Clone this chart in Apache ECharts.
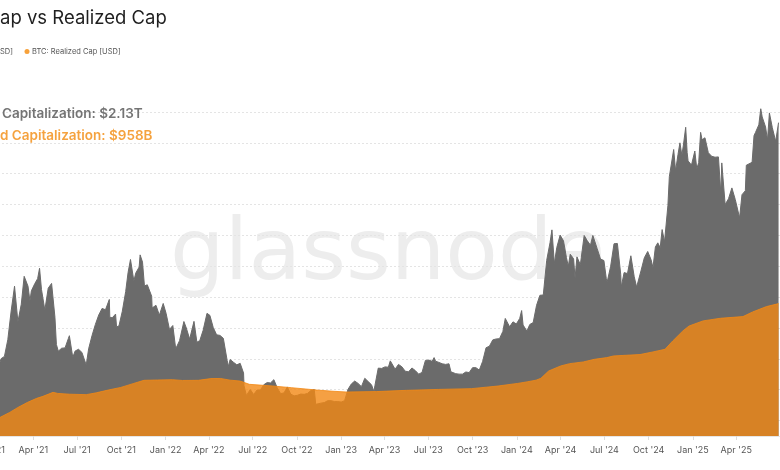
<!DOCTYPE html>
<html><head><meta charset="utf-8">
<script src="https://cdn.jsdelivr.net/npm/echarts@6/dist/echarts.min.js"></script>
<style>html,body{margin:0;padding:0;background:#fff;overflow:hidden}#c{width:780px;height:470px}</style>
</head><body><div id="c"></div>
<script>
// BTC market cap (USD billions)
const marketCap = [
['2021-01-03',614],['2021-01-08',765],['2021-01-10',712],['2021-01-17',666],['2021-01-21',573],['2021-01-24',601],['2021-01-31',616],
['2021-02-07',724],['2021-02-14',910],['2021-02-21',1071],['2021-02-28',840],['2021-03-07',954],['2021-03-13',1135],['2021-03-21',1071],
['2021-03-25',975],['2021-03-28',1041],['2021-04-04',1087],['2021-04-10',1120],['2021-04-14',1187],['2021-04-18',1050],['2021-04-25',916],
['2021-05-02',1058],['2021-05-09',1089],['2021-05-16',869],['2021-05-19',693],['2021-05-23',650],['2021-05-30',669],['2021-06-06',671],
['2021-06-13',733],['2021-06-15',750],['2021-06-22',610],['2021-06-27',651],['2021-07-04',662],['2021-07-11',642],['2021-07-20',560],
['2021-07-25',665],['2021-08-01',750],['2021-08-08',823],['2021-08-15',884],['2021-08-22',927],['2021-08-29',918],['2021-09-06',985],
['2021-09-07',870],['2021-09-12',866],['2021-09-19',890],['2021-09-21',808],['2021-09-26',813],['2021-10-03',908],['2021-10-10',1036],
['2021-10-15',1160],['2021-10-20',1244],['2021-10-27',1105],['2021-10-31',1156],['2021-11-07',1195],['2021-11-09',1274],['2021-11-14',1227],
['2021-11-18',1073],['2021-11-24',1080],['2021-11-28',1082],['2021-12-03',1006],['2021-12-04',930],['2021-12-12',947],['2021-12-19',883],
['2021-12-27',959],['2022-01-02',895],['2022-01-09',791],['2022-01-16',816],['2022-01-22',665],['2022-01-30',718],['2022-02-08',842],
['2022-02-13',800],['2022-02-20',728],['2022-02-24',726],['2022-03-01',843],['2022-03-07',708],['2022-03-13',718],['2022-03-20',785],
['2022-03-28',895],['2022-04-03',882],['2022-04-10',803],['2022-04-17',756],['2022-04-24',752],['2022-05-01',733],['2022-05-09',588],
['2022-05-12',551],['2022-05-15',596],['2022-05-22',578],['2022-05-29',561],['2022-06-05',571],['2022-06-12',508],['2022-06-13',425],
['2022-06-18',363],['2022-06-26',401],['2022-07-03',369],['2022-07-10',398],['2022-07-17',398],['2022-07-24',432],['2022-07-31',446],
['2022-08-07',444],['2022-08-14',465],['2022-08-21',412],['2022-08-28',375],['2022-09-04',379],['2022-09-11',418],['2022-09-18',372],
['2022-09-25',360],['2022-10-02',364],['2022-10-09',372],['2022-10-16',370],['2022-10-23',376],['2022-10-30',395],['2022-11-06',401],
['2022-11-09',305],['2022-11-13',313],['2022-11-20',313],['2022-11-27',317],['2022-12-04',329],['2022-12-11',329],['2022-12-18',323],
['2022-12-25',323],['2023-01-01',320],['2023-01-08',329],['2023-01-15',402],['2023-01-22',437],['2023-01-29',456],['2023-02-05',441],
['2023-02-12',420],['2023-02-19',474],['2023-02-26',453],['2023-03-05',432],['2023-03-10',389],['2023-03-12',426],['2023-03-19',540],
['2023-03-26',538],['2023-04-02',548],['2023-04-09',546],['2023-04-13',587],['2023-04-16',585],['2023-04-23',533],['2023-04-30',564],
['2023-05-07',549],['2023-05-14',520],['2023-05-21',516],['2023-05-28',541],['2023-06-04',524],['2023-06-11',501],['2023-06-18',512],
['2023-06-25',590],['2023-07-02',592],['2023-07-09',584],['2023-07-13',608],['2023-07-16',585],['2023-07-23',577],['2023-07-30',568],
['2023-08-06',564],['2023-08-13',568],['2023-08-17',516],['2023-08-20',508],['2023-08-27',504],['2023-09-03',501],['2023-09-10',501],
['2023-09-17',515],['2023-09-24',511],['2023-10-01',543],['2023-10-08',543],['2023-10-15',527],['2023-10-22',584],['2023-10-29',672],
['2023-11-05',682],['2023-11-12',723],['2023-11-19',729],['2023-11-26',731],['2023-12-03',778],['2023-12-08',862],['2023-12-10',855],
['2023-12-17',808],['2023-12-24',840],['2023-12-31',826],['2024-01-07',862],['2024-01-11',913],['2024-01-14',819],['2024-01-22',780],
['2024-01-28',823],['2024-02-04',835],['2024-02-11',947],['2024-02-18',1012],['2024-02-25',1014],['2024-03-03',1238],['2024-03-10',1353],
['2024-03-14',1436],['2024-03-19',1218],['2024-03-24',1321],['2024-03-31',1402],['2024-04-07',1365],['2024-04-13',1258],['2024-04-17',1200],
['2024-04-21',1278],['2024-04-28',1249],['2024-05-01',1123],['2024-05-05',1261],['2024-05-12',1210],['2024-05-20',1400],['2024-05-26',1368],
['2024-06-02',1337],['2024-06-07',1400],['2024-06-16',1314],['2024-06-23',1247],['2024-06-30',1237],['2024-07-05',1119],['2024-07-07',1101],
['2024-07-14',1200],['2024-07-21',1346],['2024-07-28',1348],['2024-08-04',1147],['2024-08-05',1066],['2024-08-11',1159],['2024-08-18',1153],
['2024-08-25',1268],['2024-09-01',1132],['2024-09-06',1065],['2024-09-15',1170],['2024-09-22',1255],['2024-09-29',1296],['2024-10-06',1243],
['2024-10-10',1192],['2024-10-15',1325],['2024-10-20',1352],['2024-10-25',1320],['2024-10-29',1438],['2024-11-03',1359],['2024-11-10',1593],
['2024-11-13',1781],['2024-11-17',1777],['2024-11-22',1957],['2024-11-26',1819],['2024-12-01',1925],['2024-12-05',2000],['2024-12-09',1920],
['2024-12-12',1980],['2024-12-17',2101],['2024-12-20',1937],['2024-12-22',1883],['2024-12-29',1856],['2025-01-05',1947],['2025-01-09',1832],
['2025-01-13',1872],['2025-01-17',2068],['2025-01-20',2020],['2025-01-26',2033],['2025-02-02',1936],['2025-02-09',1913],['2025-02-16',1907],
['2025-02-23',1909],['2025-02-28',1673],['2025-03-02',1870],['2025-03-09',1600],['2025-03-16',1638],['2025-03-23',1708],['2025-03-30',1633],
['2025-04-08',1514],['2025-04-13',1664],['2025-04-20',1690],['2025-04-22',1855],['2025-04-27',1863],['2025-05-04',1874],['2025-05-08',2047],
['2025-05-11',2067],['2025-05-18',2117],['2025-05-22',2221],['2025-05-25',2168],['2025-06-01',2103],['2025-06-05',2019],['2025-06-09',2194],
['2025-06-15',2099],['2025-06-22',2010],['2025-06-28',2131]
];
// BTC realized cap (USD billions)
const realizedCap = [
['2021-01-01',198],['2021-01-22',221],['2021-02-11',253],['2021-02-28',285],['2021-03-20',318],['2021-04-08',344],['2021-04-21',357],
['2021-05-12',383],['2021-05-22',376],['2021-06-15',371],['2021-07-20',368],['2021-08-10',380],['2021-09-01',396],['2021-09-30',415],
['2021-10-27',441],['2021-11-17',461],['2021-12-15',463],['2022-01-15',465],['2022-02-05',460],['2022-03-10',461],['2022-04-05',472],
['2022-04-25',473],['2022-05-15',462],['2022-06-05',456],['2022-06-15',445],['2022-06-24',435],['2022-08-12',424],['2022-09-20',413],
['2022-11-11',398],['2022-12-15',390],['2023-01-12',385],['2023-03-15',388],['2023-05-17',396],['2023-07-23',402],['2023-09-29',407],
['2023-11-23',424],['2024-01-03',441],['2024-01-24',452],['2024-02-10',462],['2024-02-20',474],['2024-03-07',521],['2024-04-01',554],
['2024-04-20',569],['2024-05-18',580],['2024-06-10',597],['2024-07-06',608],['2024-07-20',619],['2024-09-13',628],['2024-10-10',645],
['2024-11-04',662],['2024-11-20',716],['2024-12-11',781],['2024-12-24',813],['2025-01-22',846],['2025-02-27',863],['2025-04-15',874],
['2025-05-05',904],['2025-06-03',939],['2025-06-28',958]
];
const monthNames = ['Jan','Feb','Mar','Apr','May','Jun','Jul','Aug','Sep','Oct','Nov','Dec'];
const lastLabelDate = '2025-04-01';
const titleText = 'ap vs Realized Cap';
const legendCut = 'SD]';
const legendRealized = 'BTC: Realized Cap [USD]';
const noteMarket = 'Capitalization: $2.13T';
const noteRealized = 'd Capitalization: $958B';

const chart = echarts.init(document.getElementById('c'), null, {renderer: 'canvas'});
const FONT = 'Inter, "Noto Sans", sans-serif';
const lastLabelTime = new Date(lastLabelDate + 'T00:00:00').getTime();
chart.setOption({
  animation: false,
  backgroundColor: '#ffffff',
  grid: {left: -10, right: 0, top: 112, bottom: 34, containLabel: false, outerBoundsMode: 'none'},
  xAxis: {
    type: 'time',
    min: '2021-01-01',
    max: '2025-07-01',
    minInterval: 85 * 86400000,
    maxInterval: 95 * 86400000,
    axisLine: {show: true, lineStyle: {color: '#e6e6e6'}},
    axisTick: {show: true, length: 4, lineStyle: {color: '#dddddd'}},
    splitLine: {show: false},
    axisLabel: {
      color: '#555', fontSize: 9, fontFamily: FONT, margin: 10,
      showMaxLabel: false, hideOverlap: false,
      formatter: function (v) {
        if (v > lastLabelTime + 86400000) return '';
        const d = new Date(v);
        return monthNames[d.getMonth()] + " '" + String(d.getFullYear()).slice(2);
      }
    }
  },
  yAxis: {
    type: 'value',
    min: 100,
    max: 2200,
    splitNumber: 11,
    minInterval: 200,
    maxInterval: 200,
    axisLabel: {show: false},
    axisLine: {show: false},
    axisTick: {show: false},
    splitLine: {show: true, lineStyle: {color: '#e4e4e4', type: [2, 2], width: 1}}
  },
  graphic: [
    {type: 'text', z: 0, x: 170, y: 257, style: {text: 'glassnode', font: '400 86px "DejaVu Sans", sans-serif', fill: '#ededed', verticalAlign: 'middle'}},
    {type: 'text', z: 100, x: 0, y: 18, style: {text: titleText, font: '400 18.5px ' + FONT, fill: '#1f1f1f', verticalAlign: 'middle'}},
    {type: 'text', z: 100, x: 0, y: 52, style: {text: legendCut, font: '400 7.5px ' + FONT, fill: '#555', verticalAlign: 'middle'}},
    {type: 'circle', z: 100, shape: {cx: 27, cy: 51.5, r: 2.5}, style: {fill: '#f7a13a'}},
    {type: 'text', z: 100, x: 32, y: 52, style: {text: legendRealized, font: '400 7.5px ' + FONT, fill: '#555', verticalAlign: 'middle'}},
    {type: 'text', z: 100, x: 2, y: 114, style: {text: noteMarket, font: '600 13.5px ' + FONT, fill: '#747474', verticalAlign: 'middle'}},
    {type: 'text', z: 100, x: 0, y: 135.5, style: {text: noteRealized, font: '600 13.5px ' + FONT, fill: '#f5a23e', verticalAlign: 'middle'}}
  ],
  series: [
    {
      name: 'BTC: Market Cap [USD]', type: 'line', data: marketCap, showSymbol: false, clip: false, z: 2,
      lineStyle: {color: '#6b6b6b', width: 1}, itemStyle: {color: '#6b6b6b'},
      areaStyle: {color: '#6b6b6b', opacity: 1}
    },
    {
      name: 'BTC: Realized Cap [USD]', type: 'line', data: realizedCap, showSymbol: false, z: 3,
      lineStyle: {color: 'rgba(243,136,20,0.8)', width: 1}, itemStyle: {color: '#f7a13a'},
      areaStyle: {color: 'rgba(243,136,20,0.8)', opacity: 1}
    }
  ]
});
</script>
</body></html>
